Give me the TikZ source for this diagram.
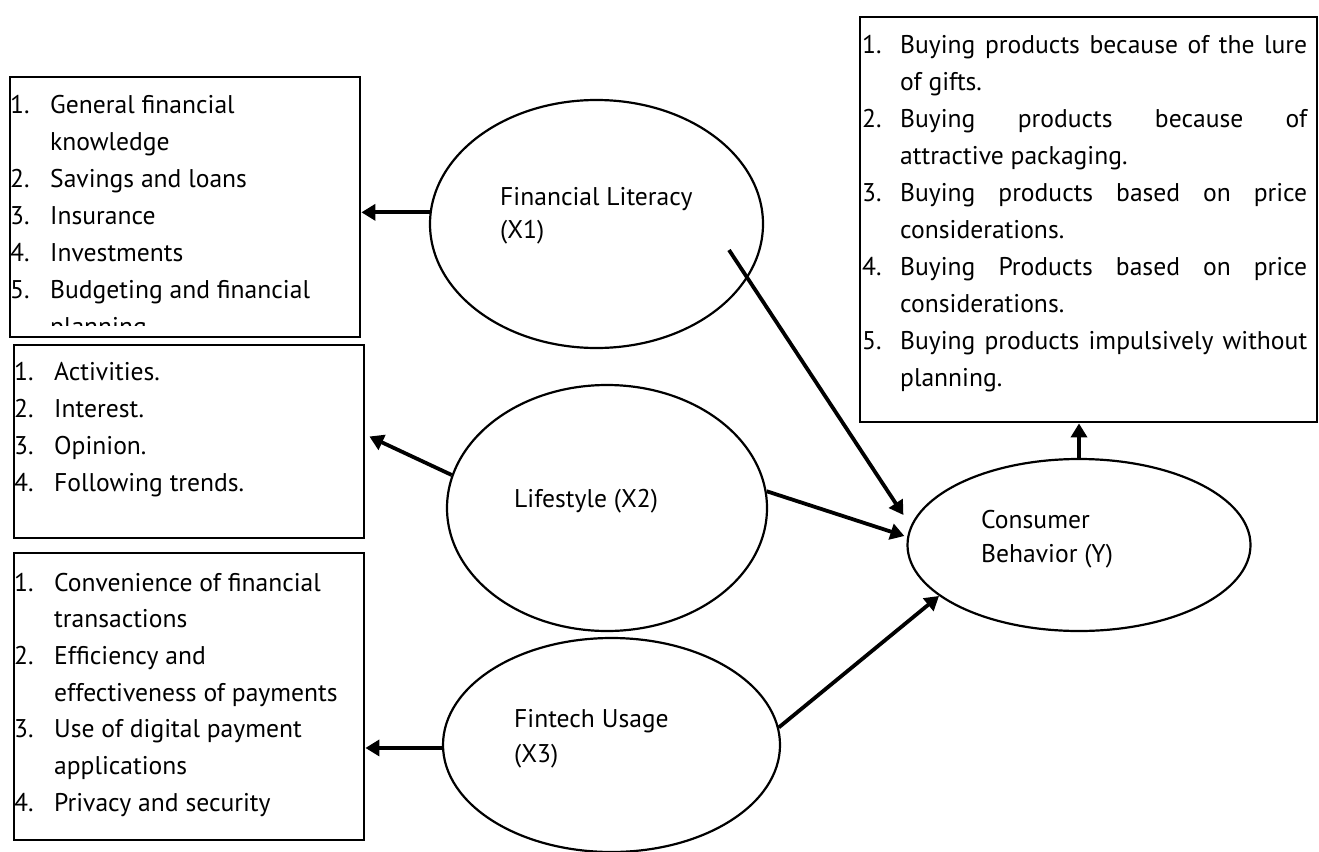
\documentclass[tikz,border=0pt]{standalone}
\usepackage{fontspec}
\setmainfont{PT Sans}
\usetikzlibrary{arrows.meta,calc,shapes.geometric}
\newcommand{\jl}[1]{\makebox[407pt][s]{#1}}
\begin{document}
\begin{tikzpicture}[x=1pt,y=-1pt,
  boxnode/.style={draw, line width=2.8pt, inner sep=0pt},
  ell/.style={draw, ellipse, line width=2.2pt, inner sep=0pt},
  txt/.style={anchor=base west, inner sep=0pt, font=\fontsize{25.6}{30}\selectfont},
  arr/.style={line width=3.8pt, -{Triangle[length=14pt,width=16pt]}}]
\useasboundingbox (0,0) rectangle (1319,851);

% indicator boxes
\node[boxnode, minimum width=350pt, minimum height=260pt] (bx1) at (185,207) {};
\node[boxnode, minimum width=350pt, minimum height=193pt] (bx2) at (189,441.5) {};
\node[boxnode, minimum width=350pt, minimum height=287pt] (bx3) at (189,696.5) {};
\node[boxnode, minimum width=457pt, minimum height=405pt] (bx4) at (1088.5,219.5) {};

% latent variables
\node[ell, minimum width=333pt, minimum height=248pt] (X1) at (596.5,224) {};
\node[ell, minimum width=320pt, minimum height=246pt] (X2) at (607,508) {};
\node[ell, minimum width=337pt, minimum height=214pt] (X3) at (611.5,745) {};
\node[ell, minimum width=343pt, minimum height=172pt] (Y) at (1079,545) {};

% ellipse labels
\node[txt] (t1a) at (500,205) {Financial Literacy};
\node[txt] (t1b) at (500,238) {(X1)};
\node[txt] (t2a) at (514,507) {Lifestyle (X2)};
\node[txt] (t3a) at (514,727) {Fintech Usage};
\node[txt] (t3b) at (514,762) {(X3)};
\node[txt] (t4a) at (981,528) {Consumer};
\node[txt] (t4b) at (981,562) {Behavior (Y)};

% box 1 text (clipped)
\begin{scope}
\clip (10,77) rectangle (360,325);
\foreach \n/\t [count=\i] in {1./General financial, /knowledge, 2./Savings and loans,
  3./Insurance, 4./Investments, 5./Budgeting and financial, /planning}
  \node[txt] (la\i) at (10,{113+37*(\i-1)}) {\makebox[40pt][l]{\n}\t};
\end{scope}

% box 2 text
\foreach \n/\t [count=\i] in {1./Activities., 2./Interest., 3./Opinion., 4./Following trends.}
  \node[txt] (lb\i) at (14,{380+37.3*(\i-1)}) {\makebox[40pt][l]{\n}\t};

% box 3 text
\foreach \n/\t [count=\i] in {1./Convenience of financial, /transactions, 2./Efficiency and,
  /effectiveness of payments, 3./Use of digital payment, /applications, 4./Privacy and security}
  \node[txt] (lc\i) at (14,{591+36.7*(\i-1)}) {\makebox[40pt][l]{\n}\t};

% box 4 text
\foreach \n/\t [count=\i] in {1./\jl{Buying products because of the lure}, /of gifts.,
  2./\jl{Buying products because of}, /attractive packaging.,
  3./\jl{Buying products based on price}, /considerations.,
  4./\jl{Buying Products based on price}, /considerations.,
  5./\jl{Buying products impulsively without}, /planning.}
  \node[txt] (ld\i) at (862,{53+37*(\i-1)}) {\makebox[38pt][l]{\n}\t};

% connectors
\coordinate (s1) at (729,250);
\draw[arr] (X1.176) -- (X1.176 -| bx1.east);
\draw[arr] (X2.168) -- ($(bx2.east)+(4,-5)$);
\draw[arr] (X3.181) -- (X3.181 -| bx3.east);
\draw[arr] (s1) -- ($(Y.west)+(-3,-30)$);
\draw[arr] (X2.6) -- ($(Y.west)+(-2,-9)$);
\draw[arr] (X3.6) -- (Y.200);
\draw[arr] (Y.north) -- (Y.north |- bx4.south);
\end{tikzpicture}
\end{document}
